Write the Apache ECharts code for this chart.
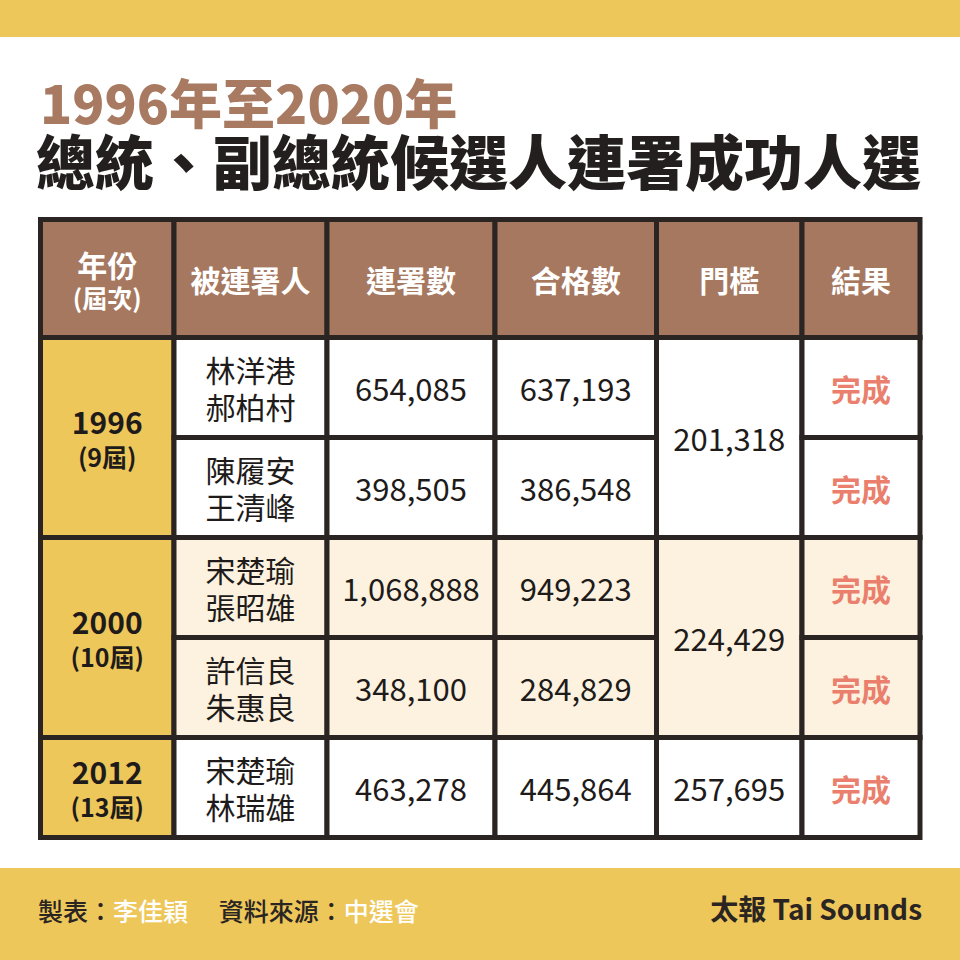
<!DOCTYPE html>
<html>
<head>
<meta charset="utf-8">
<script src="https://cdn.jsdelivr.net/npm/echarts@6/dist/echarts.min.js"></script>
<style>html,body{margin:0;padding:0;background:#fff}#c{width:960px;height:960px}</style>
</head>
<body>
<div id="c"></div>
<script>
// ---- data ----
const titleLine1 = '1996年至2020年';
const titleLine2 = '總統、副總統候選人連署成功人選';
const headerMain = ['年份', '被連署人', '連署數', '合格數', '門檻', '結果'];
const headerSub = ['(屆次)', '', '', '', '', ''];
const years = ['1996', '2000', '2012'];
const terms = ['(9屆)', '(10屆)', '(13屆)'];
const yearRows = [2, 2, 1];
const candidates = [['林洋港', '郝柏村'], ['陳履安', '王清峰'], ['宋楚瑜', '張昭雄'], ['許信良', '朱惠良'], ['宋楚瑜', '林瑞雄']];
const signatures = [654085, 398505, 1068888, 348100, 463278];
const qualified = [637193, 386548, 949223, 284829, 445864];
const thresholds = [201318, 224429, 257695];
const results = ['完成', '完成', '完成', '完成', '完成'];
const footerMaker = '李佳穎';
const footerSource = '中選會';
const brand = '太報 Tai Sounds';

// ---- layout / style ----
const colEdges = [0, 133.5, 286.5, 454.5, 616, 761.5, 879.5];
const headerH = 118, rowH = 100;
const FONT = '"Noto Sans CJK TC","Noto Sans CJK SC","Noto Sans",sans-serif';
const C = {
  band: '#EEC75B', header: '#A6785F', year: '#EEC75B', cream: '#FCF2DF', white: '#FFFFFF',
  line: '#2A2522', text: '#1E1B1A', red: '#EA7F6D', brown: '#A97A62'
};
const fmt = v => v.toLocaleString('en-US');

// ---- build cells ----
const rowTop = r => headerH + r * rowH;
const cells = [];
const highlight = [false, false, true, true, false];
for (let c = 0; c < 6; c++) {
  const t = headerSub[c] ? '{h|' + headerMain[c] + '}\n{hs|' + headerSub[c] + '}' : '{h|' + headerMain[c] + '}';
  cells.push({ v: [colEdges[c], colEdges[c + 1], 0, headerH], fill: C.header, text: t });
}
let r = 0;
years.forEach((y, yi) => {
  const span = yearRows[yi];
  cells.push({ v: [colEdges[0], colEdges[1], rowTop(r), rowTop(r + span)], fill: C.year, text: '{y|' + y + '}\n{ys|' + terms[yi] + '}' });
  cells.push({ v: [colEdges[4], colEdges[5], rowTop(r), rowTop(r + span)], fill: highlight[r] ? C.cream : C.white, text: '{n|' + fmt(thresholds[yi]) + '}' });
  r += span;
});
for (let i = 0; i < candidates.length; i++) {
  const f = highlight[i] ? C.cream : C.white;
  cells.push({ v: [colEdges[1], colEdges[2], rowTop(i), rowTop(i + 1)], fill: f, text: '{nm|' + candidates[i].join('}\n{nm|') + '}' });
  cells.push({ v: [colEdges[2], colEdges[3], rowTop(i), rowTop(i + 1)], fill: f, text: '{n|' + fmt(signatures[i]) + '}' });
  cells.push({ v: [colEdges[3], colEdges[4], rowTop(i), rowTop(i + 1)], fill: f, text: '{n|' + fmt(qualified[i]) + '}' });
  cells.push({ v: [colEdges[5], colEdges[6], rowTop(i), rowTop(i + 1)], fill: f, text: '{ok|' + results[i] + '}' });
}

const st = (size, weight, col, lh) => ({ fontFamily: FONT, fontSize: size, fontWeight: weight, fill: col, color: col, lineHeight: lh });
const rich = {
  h: st(30, 'bold', '#FFFFFF', 36),
  hs: st(25, 'bold', '#FFFFFF', 30),
  y: st(30, 'bold', C.text, 37),
  ys: st(25, 'bold', C.text, 33),
  n: st(31, 'normal', C.text, 40),
  nm: st(30, 'normal', C.text, 37),
  ok: st(30, 'bold', C.red, 40)
};

const chart = echarts.init(document.getElementById('c'), null, { renderer: 'svg', width: 960, height: 960 });
chart.setOption({
  backgroundColor: '#fff',
  animation: false,
  grid: { left: 40.5, right: 40, top: 219.5, bottom: 122.5 },
  xAxis: { type: 'value', min: 0, max: colEdges[6], show: false },
  yAxis: { type: 'value', min: 0, max: rowTop(candidates.length), inverse: true, show: false },
  graphic: [
    { type: 'rect', left: 0, top: 0, shape: { width: 960, height: 37 }, style: { fill: C.band }, silent: true },
    { type: 'rect', left: 0, top: 868, shape: { width: 960, height: 92 }, style: { fill: C.band }, silent: true },
    { type: 'text', left: 40, top: 74, style: { text: titleLine1, font: '900 53px ' + FONT, fill: C.brown, lineHeight: 53 } },
    { type: 'text', left: 36, top: 130, style: { text: titleLine2, font: '900 59px ' + FONT, fill: '#231F1E', lineHeight: 59 } },
    { type: 'text', left: 38, top: 897, style: {
      text: '{d|製表：}{w|' + footerMaker + '}{d|　 資料來源：}{w|' + footerSource + '}',
      rich: {
        d: { fontFamily: FONT, fontSize: 25, fontWeight: 500, fill: '#2A2522', color: '#2A2522' },
        w: { fontFamily: FONT, fontSize: 25, fontWeight: 500, fill: '#FFFFFF', color: '#FFFFFF' }
      } } },
    { type: 'text', right: 38, top: 894, style: { text: brand, font: 'bold 28px ' + FONT, fill: '#2A2522' } }
  ],
  series: [{
    type: 'custom',
    coordinateSystem: 'cartesian2d',
    data: cells.map(c => c.v),
    renderItem: function (params, api) {
      const cell = cells[params.dataIndex];
      const p0 = api.coord([api.value(0), api.value(2)]);
      const p1 = api.coord([api.value(1), api.value(3)]);
      return {
        type: 'group',
        children: [
          { type: 'rect', shape: { x: p0[0], y: p0[1], width: p1[0] - p0[0], height: p1[1] - p0[1] },
            style: { fill: cell.fill, stroke: C.line, lineWidth: 5 } },
          { type: 'text', style: { text: cell.text, rich: rich, x: (p0[0] + p1[0]) / 2, y: (p0[1] + p1[1]) / 2,
            align: 'center', verticalAlign: 'middle' } }
        ]
      };
    }
  }]
});
</script>
</body>
</html>
